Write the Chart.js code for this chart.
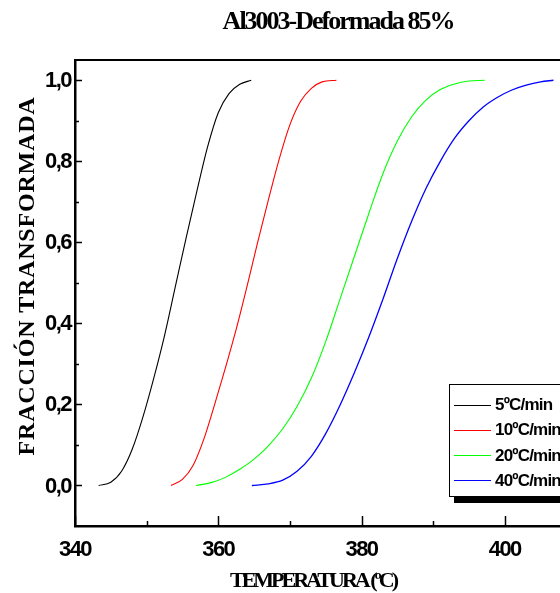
<!DOCTYPE html>
<html>
<head>
<meta charset="utf-8">
<script src="https://cdn.jsdelivr.net/npm/chart.js@4/dist/chart.umd.min.js"></script>
<style>
  html, body { margin: 0; padding: 0; overflow: hidden; background: #fff; }
  #wrap { width: 700px; height: 593px; position: relative; }
</style>
</head>
<body>
<div id="wrap"><canvas id="chart"></canvas></div>
<script>
// ---- Datos ----
const seriesLabels = ["5ºC/min", "10ºC/min", "20ºC/min", "40ºC/min"];
const seriesColors = ["#000000", "#ff0000", "#00ff00", "#0000ff"];

const temp5 = [343.3, 345.0, 346.5, 348.0, 349.5, 351.0, 352.5, 354.0, 355.5, 357.0, 358.5, 360.0, 361.5, 363.0, 364.6];
const frac5 = [0.0, 0.008, 0.035, 0.09, 0.17, 0.265, 0.37, 0.49, 0.61, 0.725, 0.835, 0.92, 0.967, 0.99, 1.0];

const temp10 = [353.4, 355.0, 356.5, 358.0, 359.5, 361.0, 362.5, 364.0, 365.5, 367.0, 368.5, 370.0, 371.5, 373.0, 374.5, 376.5];
const frac10 = [0.0, 0.015, 0.05, 0.115, 0.2, 0.29, 0.385, 0.49, 0.6, 0.705, 0.805, 0.89, 0.948, 0.98, 0.996, 1.0];

const temp20 = [356.9, 359.0, 361.0, 363.0, 365.0, 367.0, 369.0, 371.0, 373.0, 375.0, 377.0, 379.0, 381.0, 383.0, 385.0, 387.0, 389.0, 391.0, 393.0, 395.0, 397.2];
const frac20 = [0.0, 0.007, 0.02, 0.04, 0.065, 0.098, 0.14, 0.195, 0.265, 0.355, 0.46, 0.565, 0.67, 0.77, 0.85, 0.91, 0.951, 0.977, 0.991, 0.998, 1.0];

const temp40 = [364.7, 367.0, 369.0, 371.0, 373.0, 375.0, 377.0, 379.0, 381.0, 383.0, 385.0, 387.0, 389.0, 391.0, 393.0, 395.0, 397.0, 399.0, 401.0, 403.0, 405.0, 406.8];
const frac40 = [0.0, 0.004, 0.013, 0.035, 0.072, 0.128, 0.198, 0.278, 0.365, 0.46, 0.56, 0.652, 0.733, 0.8, 0.857, 0.9, 0.934, 0.958, 0.976, 0.988, 0.996, 1.0];

const xTicks = [340, 350, 360, 370, 380, 390, 400, 410, 420];
const yTicks = [0, 0.1, 0.2, 0.3, 0.4, 0.5, 0.6, 0.7, 0.8, 0.9, 1.0];

const temps = [temp5, temp10, temp20, temp40];
const fracs = [frac5, frac10, frac20, frac40];

// ---- Ejes, textos y leyenda dibujados a mano ----
const decoPlugin = {
    id: "deco",
    afterDraw(chart) {
        const ctx = chart.ctx;
        const area = chart.chartArea;
        const xs = chart.scales.x;
        const ys = chart.scales.y;
        ctx.save();
        ctx.strokeStyle = "#000";
        ctx.fillStyle = "#000";

        // borde superior
        ctx.lineWidth = 2;
        ctx.beginPath();
        ctx.moveTo(area.left, area.top);
        ctx.lineTo(area.right, area.top);
        ctx.stroke();

        // marcas eje X
        ctx.lineWidth = 1.5;
        xTicks.forEach(v => {
            const px = Math.round(xs.getPixelForValue(v)) + 0.5;
            const len = v % 20 === 0 ? 10 : 5;
            ctx.beginPath();
            ctx.moveTo(px, area.bottom);
            ctx.lineTo(px, area.bottom - len);
            ctx.stroke();
        });
        // marcas eje Y
        yTicks.forEach((v, i) => {
            const py = Math.round(ys.getPixelForValue(v)) + 0.5;
            const len = i % 2 === 0 ? 7 : 4;
            ctx.beginPath();
            ctx.moveTo(area.left, py);
            ctx.lineTo(area.left + len, py);
            ctx.stroke();
        });

        // etiquetas
        ctx.font = "bold 22px 'Liberation Sans', Arial, sans-serif";
        ctx.letterSpacing = "-1.5px";
        ctx.textAlign = "center";
        ctx.textBaseline = "alphabetic";
        xTicks.forEach(v => {
            if (v % 20 !== 0) return;
            ctx.fillText(String(v), xs.getPixelForValue(v), 556);
        });
        ctx.textAlign = "right";
        ctx.textBaseline = "middle";
        yTicks.forEach((v, i) => {
            if (i % 2 !== 0) return;
            ctx.fillText(v.toFixed(1).replace(".", ","), area.left - 4, ys.getPixelForValue(v) + 1);
        });

        // título
        ctx.font = "bold 26px 'Liberation Serif', 'Times New Roman', serif";
        ctx.letterSpacing = "-2px";
        ctx.textAlign = "center";
        ctx.textBaseline = "alphabetic";
        ctx.fillText("Al3003-Deformada 85%", 338, 29);

        // título eje X
        ctx.font = "bold 22px 'Liberation Serif', 'Times New Roman', serif";
        ctx.letterSpacing = "-3px";
        ctx.fillText("TEMPERATURA (ºC)", 313, 587);

        // título eje Y
        ctx.save();
        ctx.translate(28, 276);
        ctx.rotate(-Math.PI / 2);
        ctx.font = "bold 24px 'Liberation Serif', 'Times New Roman', serif";
        ctx.letterSpacing = "0.8px";
        ctx.textBaseline = "middle";
        ctx.fillText("FRACCIÓN TRANSFORMADA", 0, 0);
        ctx.restore();

        // leyenda con sombra
        const lx = 449, ly = 384, lw = 200, lh = 112;
        ctx.fillStyle = "#000";
        ctx.fillRect(lx + 5, ly + 7, lw, lh);
        ctx.fillStyle = "#fff";
        ctx.fillRect(lx, ly, lw, lh);
        ctx.lineWidth = 1;
        ctx.strokeStyle = "#000";
        ctx.strokeRect(lx + 0.5, ly + 0.5, lw, lh);
        ctx.font = "bold 17px 'Liberation Sans', Arial, sans-serif";
        ctx.letterSpacing = "-0.8px";
        ctx.textAlign = "left";
        ctx.textBaseline = "middle";
        seriesLabels.forEach((lab, i) => {
            const yy = 404.5 + i * 25.3;
            ctx.strokeStyle = seriesColors[i];
            ctx.beginPath();
            ctx.moveTo(454, Math.round(yy) + 0.5);
            ctx.lineTo(491, Math.round(yy) + 0.5);
            ctx.stroke();
            ctx.fillStyle = "#000";
            ctx.fillText(lab, 495, yy + 1);
        });
        ctx.restore();
    }
};

const datasets = seriesLabels.map((lab, i) => ({
    label: lab,
    data: temps[i].map((t, k) => ({ x: t, y: fracs[i][k] })),
    borderColor: seriesColors[i],
    borderWidth: i === 3 ? 1.3 : 1.1,
    pointRadius: 0,
    fill: false,
    cubicInterpolationMode: "monotone"
}));

new Chart(document.getElementById("chart"), {
    type: "line",
    data: { datasets },
    options: {
        responsive: true,
        maintainAspectRatio: false,
        animation: false,
        layout: { padding: { left: 75, top: 60, right: 52, bottom: 67 } },
        plugins: { legend: { display: false }, tooltip: { enabled: false }, title: { display: false } },
        scales: {
            x: {
                type: "linear", min: 340, max: 420,
                ticks: { display: false },
                grid: { display: false },
                border: { display: true, color: "#000", width: 2.5 },
                afterFit: s => { s.height = 0; }
            },
            y: {
                type: "linear", min: -0.1, max: 1.05,
                ticks: { display: false },
                grid: { display: false },
                border: { display: true, color: "#000", width: 2.5 },
                afterFit: s => { s.width = 0; }
            }
        }
    },
    plugins: [decoPlugin]
});
</script>
</body>
</html>
